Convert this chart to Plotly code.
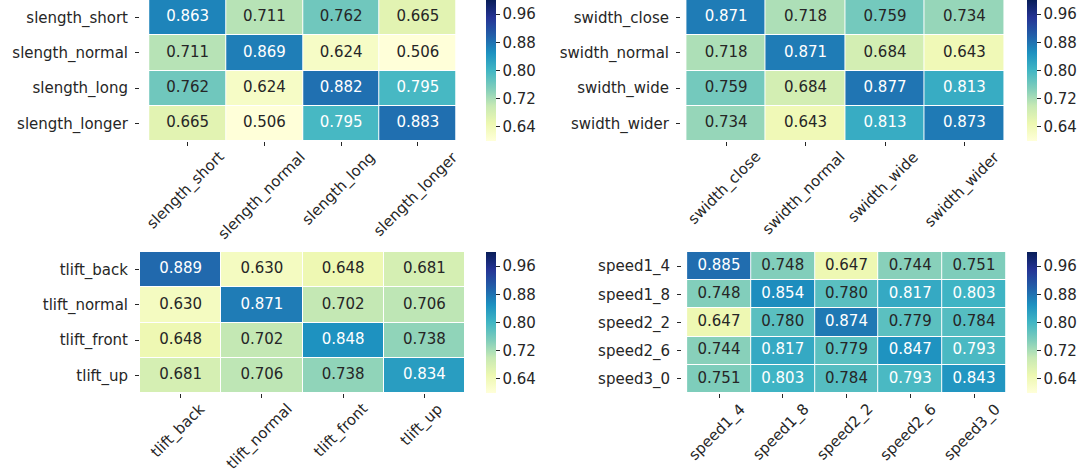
import plotly.graph_objects as go

# ---------------- data ----------------
slength_labels = ["slength_short", "slength_normal", "slength_long", "slength_longer"]
slength_vals = [
    [0.863, 0.711, 0.762, 0.665],
    [0.711, 0.869, 0.624, 0.506],
    [0.762, 0.624, 0.882, 0.795],
    [0.665, 0.506, 0.795, 0.883],
]
swidth_labels = ["swidth_close", "swidth_normal", "swidth_wide", "swidth_wider"]
swidth_vals = [
    [0.871, 0.718, 0.759, 0.734],
    [0.718, 0.871, 0.684, 0.643],
    [0.759, 0.684, 0.877, 0.813],
    [0.734, 0.643, 0.813, 0.873],
]
tlift_labels = ["tlift_back", "tlift_normal", "tlift_front", "tlift_up"]
tlift_vals = [
    [0.889, 0.630, 0.648, 0.681],
    [0.630, 0.871, 0.702, 0.706],
    [0.648, 0.702, 0.848, 0.738],
    [0.681, 0.706, 0.738, 0.834],
]
speed_labels = ["speed1_4", "speed1_8", "speed2_2", "speed2_6", "speed3_0"]
speed_vals = [
    [0.885, 0.748, 0.647, 0.744, 0.751],
    [0.748, 0.854, 0.780, 0.817, 0.803],
    [0.647, 0.780, 0.874, 0.779, 0.784],
    [0.744, 0.817, 0.779, 0.847, 0.793],
    [0.751, 0.803, 0.784, 0.793, 0.843],
]
cbar_ticks = [0.64, 0.72, 0.80, 0.88, 0.96]

# ---------------- style ----------------
W, H = 1087, 472
FONT = "DejaVu Sans"
FS = 15
DARK = "#262626"
YLGNBU = ["#ffffd9", "#edf8b1", "#c7e9b4", "#7fcdbb", "#41b6c4",
          "#1d91c0", "#225ea8", "#253494", "#081d58"]
colorscale = [[i / 8, c] for i, c in enumerate(YLGNBU)]
ZMIN, ZMAX = 0.6, 1.0

# pixel boxes of each panel: (x0, x1), (y0, y1) from top, colorbar left
panels = [
    (slength_labels, slength_vals, (140, 465), (0, 141), 486),
    (swidth_labels, swidth_vals, (681, 1007), (0, 141), 1027),
    (tlift_labels, tlift_vals, (140, 465), (252, 393), 486),
    (speed_labels, speed_vals, (682, 1007), (252, 393), 1027),
]

fig = go.Figure()
layout = dict(
    width=W, height=H,
    margin=dict(l=0, r=0, t=0, b=0, autoexpand=False),
    paper_bgcolor="white", plot_bgcolor="white",
    font=dict(family=FONT, size=FS, color=DARK),
    showlegend=False,
)
annotations = []

for i, (labels, vals, (x0, x1), (y0, y1), cbx) in enumerate(panels):
    n = i + 1
    xa = "x" if n == 1 else f"x{n}"
    ya = "y" if n == 1 else f"y{n}"
    xkey = "xaxis" if n == 1 else f"xaxis{n}"
    ykey = "yaxis" if n == 1 else f"yaxis{n}"

    fig.add_trace(go.Heatmap(
        z=vals, x=labels, y=labels,
        colorscale=colorscale, zmin=ZMIN, zmax=ZMAX,
        xgap=1, ygap=1, xaxis=xa, yaxis=ya, hoverinfo="skip",
        colorbar=dict(
            x=cbx / W, xanchor="left", xpad=0, ypad=0,
            y=1 - y0 / H, yanchor="top",
            len=(y1 - y0), lenmode="pixels",
            thickness=10, thicknessmode="pixels",
            outlinewidth=0,
            tickvals=cbar_ticks, tickformat=".2f",
            ticks="outside", ticklen=4, tickwidth=1, tickcolor=DARK,
            tickfont=dict(family=FONT, size=FS, color=DARK),
        ),
    ))

    xs, ys, txt, cols = [], [], [], []
    for r, row in enumerate(vals):
        for c, v in enumerate(row):
            xs.append(labels[c])
            ys.append(labels[r])
            txt.append(f"{v:.3f}")
            cols.append("white" if v > 0.79 else DARK)
    fig.add_trace(go.Scatter(
        x=xs, y=ys, text=txt, mode="text", xaxis=xa, yaxis=ya,
        textfont=dict(family=FONT, size=FS, color=cols),
        hoverinfo="skip",
    ))

    layout[xkey] = dict(
        domain=[x0 / W, x1 / W], anchor=ya, automargin=False,
        showticklabels=False, ticks="outside", ticklen=4, tickcolor=DARK,
        showgrid=False, zeroline=False, showline=False,
        categoryorder="array", categoryarray=labels,
    )
    layout[ykey] = dict(
        domain=[1 - y1 / H, 1 - y0 / H], anchor=xa, automargin=False,
        autorange="reversed", ticks="outside", ticklen=4, tickcolor=DARK,
        ticklabelstandoff=4,
        showgrid=False, zeroline=False, showline=False,
        tickfont=dict(family=FONT, size=FS, color=DARK),
        categoryorder="array", categoryarray=labels,
    )
    for lab in labels:
        annotations.append(dict(
            x=lab, xref=xa, y=1 - (y1 + 4) / H, yref="paper",
            text=lab, textangle=-45, showarrow=False,
            xanchor="center", yanchor="top", xshift=-2,
            font=dict(family=FONT, size=FS, color=DARK),
        ))

layout["annotations"] = annotations
fig.update_layout(**layout)
fig.write_html(
    "out.html",
    config={"displayModeBar": False},
    post_script="document.body.style.margin='0';document.body.style.overflow='hidden';",
)
